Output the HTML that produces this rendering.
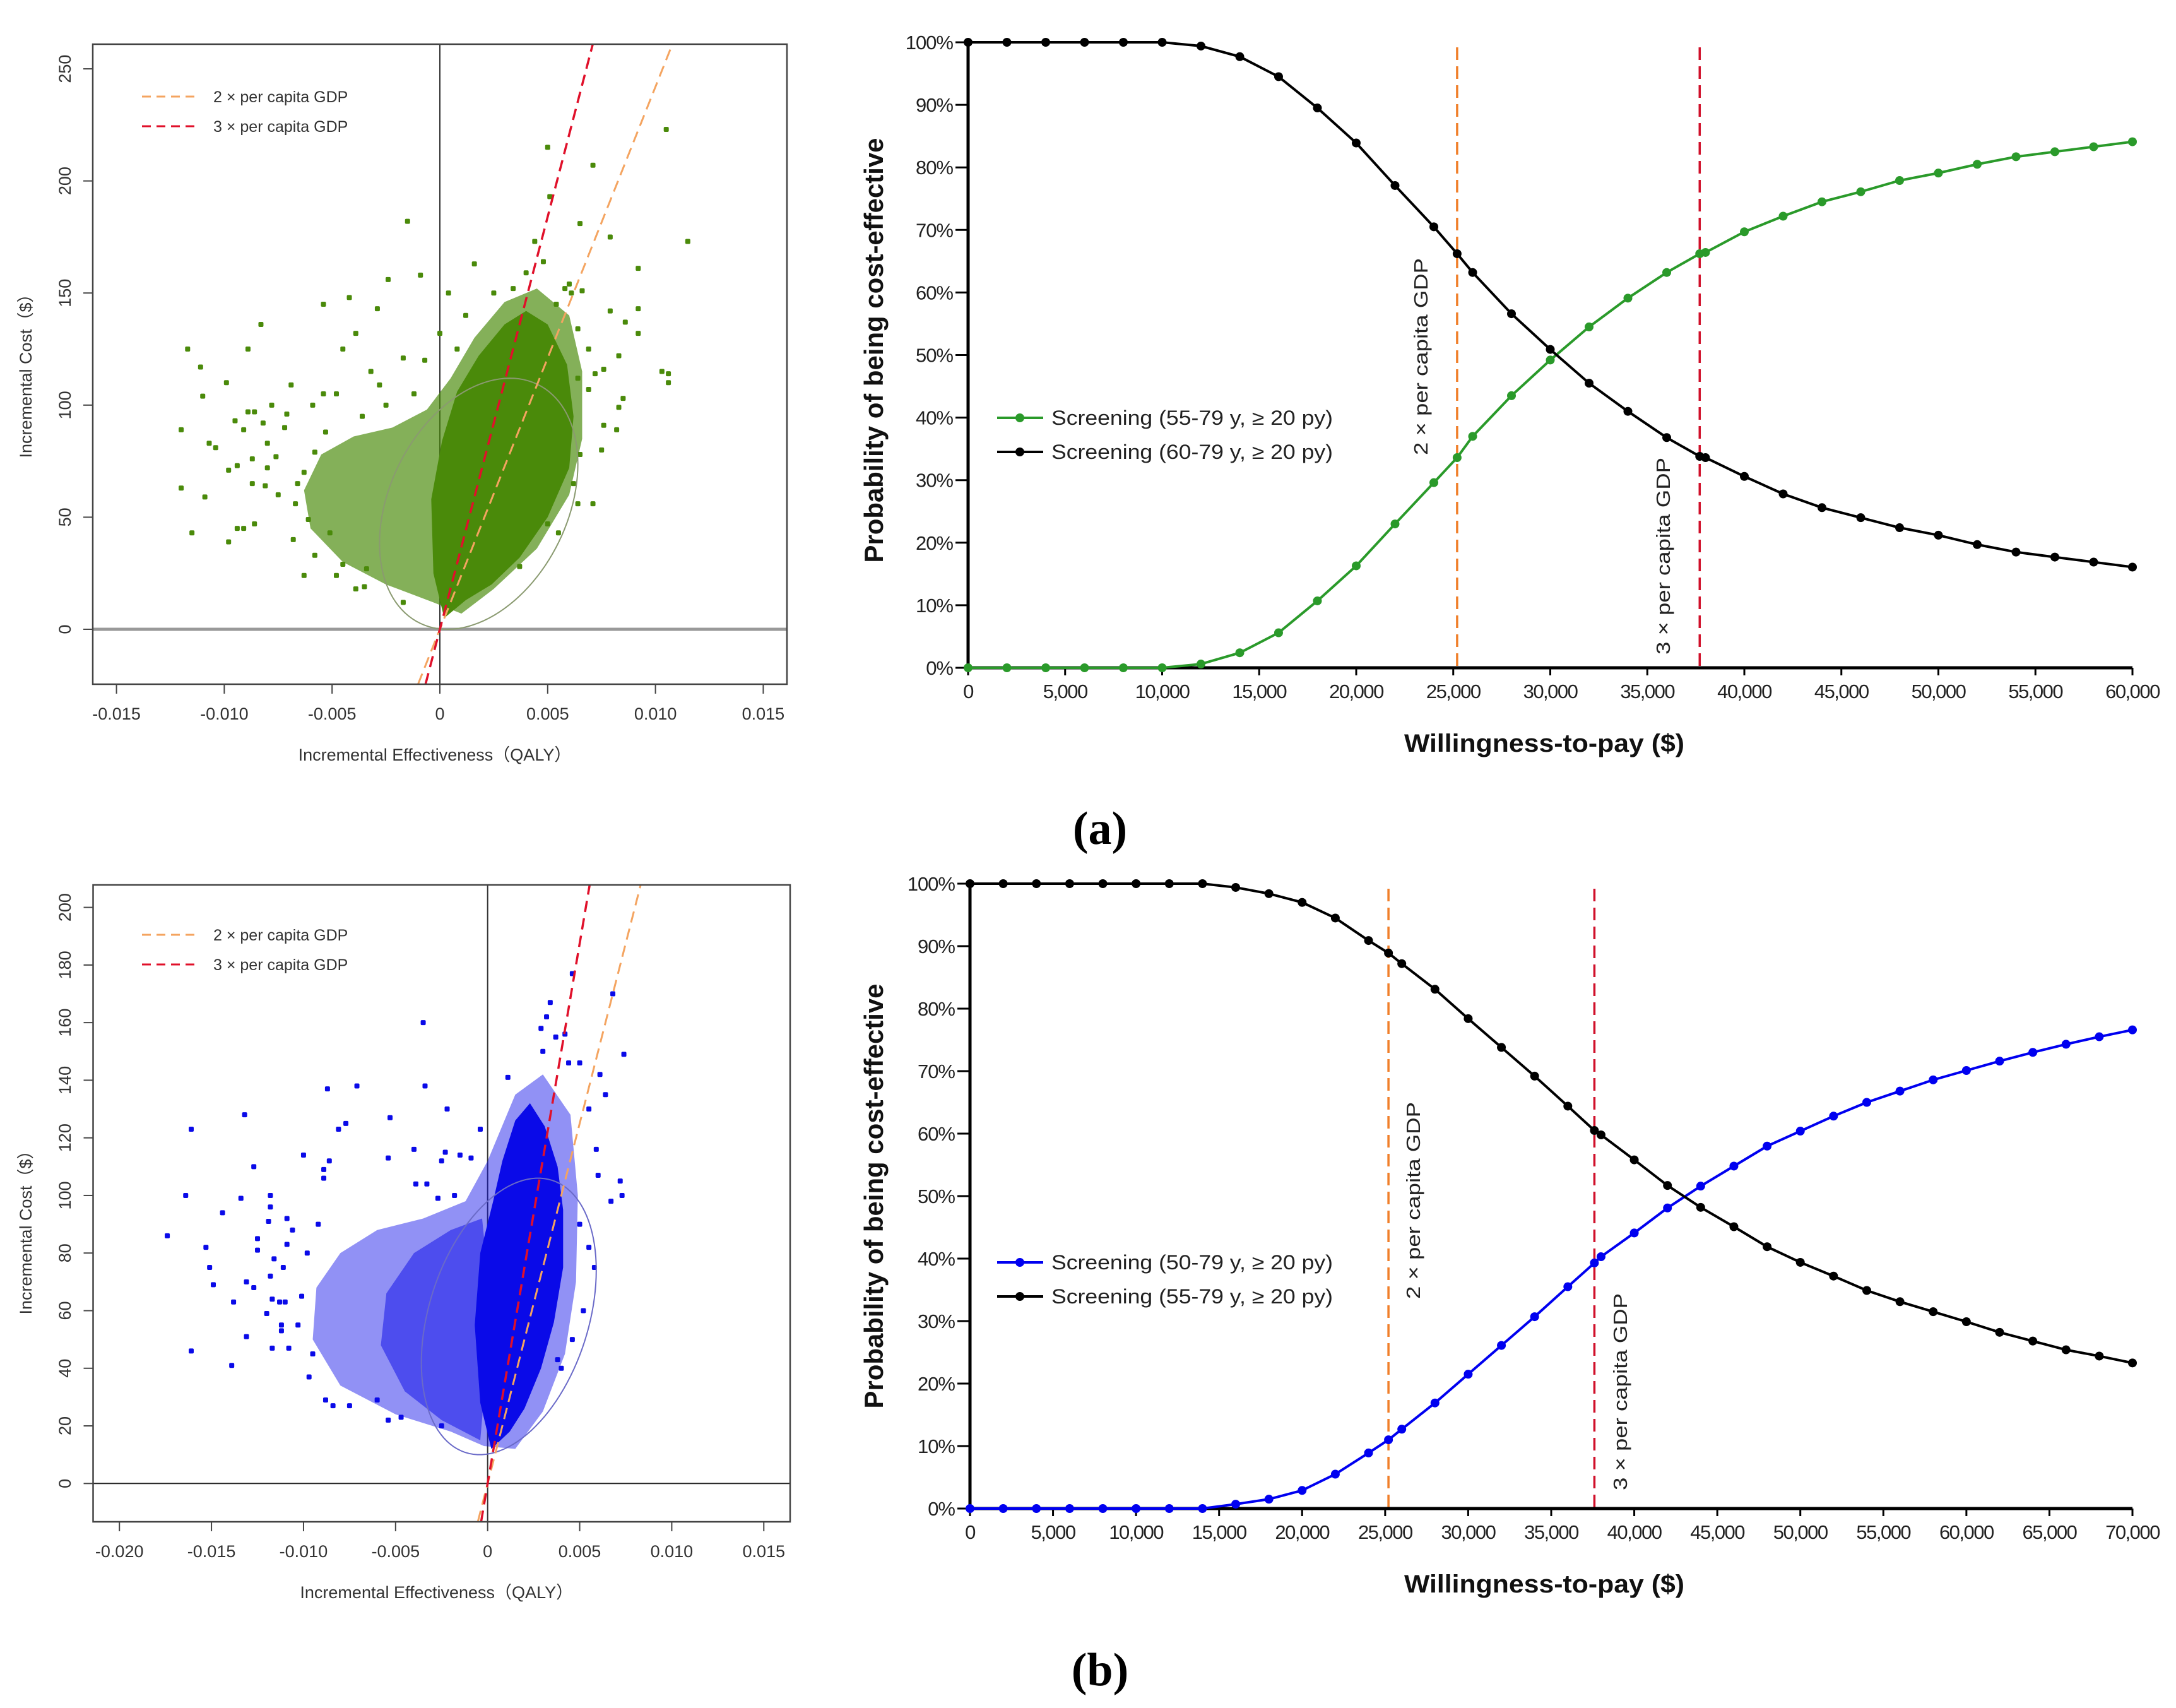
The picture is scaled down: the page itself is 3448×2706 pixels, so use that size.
<!DOCTYPE html>
<html><head><meta charset="utf-8">
<style>
html,body{margin:0;padding:0;background:#fff;}
svg{display:block;}
text{font-family:"Liberation Sans",Arial,sans-serif;}
</style></head>
<body>
<svg id="fig" width="3448" height="2706" viewBox="0 0 3448 2706" xmlns="http://www.w3.org/2000/svg">
<rect x="0" y="0" width="3448" height="2706" fill="#fff"/>
<g id="sA"></g>
<g id="sB"></g>
<g id="cA"></g>
<g id="cB"></g>
<text x="1743" y="1337" text-anchor="middle" font-size="74" font-weight="bold" style="font-family:'Liberation Serif',serif">(a)</text>
<text x="1743" y="2670" text-anchor="middle" font-size="74" font-weight="bold" style="font-family:'Liberation Serif',serif">(b)</text>
</svg>
<script>
// ---------- DATA ----------
const scatterAOutliers = [
[0.0105,223],[0.005,215],[0.0071,207],[0.0051,193],[-0.0015,182],[0.0065,181],[0.0079,175],[0.0115,173],[0.0044,173],
[-0.0009,158],[0.0016,163],[0.0092,161],[-0.0024,156],[0.0004,150],[-0.0054,145],[-0.0042,148],[-0.0029,143],[0.0092,143],
[0.0079,142],[-0.0083,136],[-0.0039,132],[0,132],[0.0092,132],[0.0086,137],[-0.0117,125],[-0.0089,125],[-0.0045,125],
[-0.0017,121],[-0.0007,120],[0.0083,122],[0.0103,115],[0.0106,114],[0.0106,110],[-0.0111,117],[-0.0099,110],[-0.0069,109],
[-0.0032,115],[-0.0028,109],[-0.011,104],[-0.0054,105],[-0.0048,105],[-0.0078,100],[-0.0059,100],[0.0083,99],[0.0085,103],
[-0.012,89],[-0.0095,93],[-0.0089,97],[-0.0086,97],[-0.0082,92],[-0.0071,96],[-0.0107,83],[-0.0104,81],[-0.0091,89],
[-0.008,83],[0.0076,91],[0.0082,89],[0.0075,80],[-0.0098,71],[-0.0094,73],[-0.0087,76],[-0.008,72],[-0.0076,77],
[-0.012,63],[-0.0109,59],[-0.0087,65],[-0.0081,64],[-0.0115,43],[-0.0098,39],[-0.0094,45],[-0.0091,45],[-0.0086,47],
[0.0071,56],[0.0055,43],[0.005,47],[0.0037,28],[-0.0063,24],[-0.0048,24],[-0.0039,18],[-0.0035,19],[-0.0017,12],
[-0.0066,65],[-0.0063,70],[-0.0058,79],[-0.0053,88],[-0.0067,56],[-0.0061,49],[-0.0051,43],[-0.0068,40],[-0.0058,33],
[-0.0045,29],[-0.0034,27],[0.0064,112],[0.0069,107],[0.0072,114],[0.0064,134],[0.0061,150],[0.0058,152],[0.004,159],
[0.0034,152],[0.0054,145],[0.0048,164],[0.006,154],[0.0066,151],[0.0069,125],[0.0076,116],[0.0064,56],[0.0062,65],[0.0065,78],
[-0.0072,90],[-0.0075,60],[-0.0036,95],[-0.0025,100],[-0.0012,105],[0.0008,125],[0.0012,140],[0.0025,150]
];
const scatterACore = [[0.0002,5],[0.0012,13],[0.0024,20],[0.0037,32],[0.0050,50],[0.0060,72],[0.0062,95],[0.0059,118],[0.0050,136],[0.0040,142],[0.0030,136],[0.0018,122],[0.0008,106],[0.0001,84],[-0.0004,58],[-0.0003,25]];
const scatterAMid = [[-0.0003,12],[-0.0025,20],[-0.0045,30],[-0.0060,45],[-0.0063,62],[-0.0055,78],[-0.0040,86],[-0.0022,90],[-0.0006,98],[0.0005,112],[0.0016,130],[0.003,146],[0.0045,152],[0.0060,140],[0.0066,115],[0.0066,85],[0.006,60],[0.0045,36],[0.0025,18],[0.001,7]];
const ellipseA = {cx:0.0018, cy:56, ax:0.0046, ay:56, phase:1.25};
const ratioA = [24200, 36800];
const scatterBOutliers = [
[-0.0035,160],[0.0034,167],[0.0032,162],[0.0029,158],[0.0037,155],[0.0042,156],[0.003,150],[0.0074,149],[0.0068,170],[0.0046,177],
[-0.0087,137],[-0.0071,138],[-0.0034,138],[-0.0132,128],[-0.0022,130],[-0.0077,125],[-0.0053,127],[-0.0081,123],[-0.0161,123],
[-0.0004,123],[0.0011,141],[0.0061,142],[0.0064,135],[0.0055,130],[0.005,146],[0.0044,146],[-0.01,114],[-0.004,116],[-0.0023,115],
[-0.0054,113],[-0.0015,114],[-0.0009,113],[-0.0127,110],[-0.0086,112],[-0.0089,109],[-0.0089,106],[-0.0025,112],[0.0059,116],
[0.006,107],[0.0072,105],[0.0073,100],[0.0067,98],[-0.0164,100],[-0.0134,99],[-0.0118,100],[-0.0118,96],[-0.0039,104],[-0.0033,104],
[-0.0027,99],[-0.0018,100],[-0.0144,94],[-0.0119,91],[-0.0109,92],[-0.0106,88],[-0.0174,86],[-0.0125,85],[-0.0153,82],[-0.0109,83],
[-0.0125,81],[-0.0151,75],[-0.0149,69],[-0.0131,70],[-0.0127,68],[-0.0118,72],[-0.0116,78],[-0.0111,75],[-0.0138,63],[-0.0117,64],
[-0.0113,63],[-0.011,63],[-0.012,59],[-0.0112,55],[-0.0112,53],[-0.0103,55],[-0.0131,51],[-0.0108,47],[-0.0117,47],[-0.0161,46],
[-0.0139,41],[-0.0097,37],[0.0038,43],[0.004,40],[-0.0088,29],[-0.0084,27],[-0.0075,27],[-0.006,29],[-0.0054,22],[-0.0047,23],
[-0.0025,20],[-0.0101,65],[-0.0098,80],[-0.0092,90],[-0.0095,45],[0.005,90],[0.0055,82],[0.0058,75],[0.0052,60],[0.0046,50]
];
const scatterBCore = [[0.0002,12],[0.0012,18],[0.002,26],[0.0029,40],[0.0036,56],[0.0041,75],[0.0041,95],[0.0038,110],[0.0031,124],[0.0023,132],[0.0015,126],[0.0008,112],[0.0003,98],[-0.0004,80],[-0.0007,55],[-0.0004,28]];
const scatterBMid = [[-0.0002,13],[-0.002,18],[-0.005,24],[-0.008,34],[-0.0095,50],[-0.0093,68],[-0.008,80],[-0.006,88],[-0.0035,92],[-0.0012,98],[0,112],[0.0015,135],[0.003,142],[0.0045,128],[0.0049,100],[0.0048,70],[0.0042,45],[0.003,25],[0.0015,12]];
const scatterBDense = [[-0.0004,15],[-0.0025,22],[-0.0045,32],[-0.0058,48],[-0.0055,66],[-0.004,80],[-0.002,88],[-0.0003,92],[0.0002,60]];
const ellipseB = {cx:0.00115, cy:58, ax:0.00475, ay:48, phase:1.23};
const ratioB = [25000, 37500];
const wtpA = [0,2000,4000,6000,8000,10000,12000,14000,16000,18000,20000,22000,24000,25200,26000,28000,30000,32000,34000,36000,37700,38000,40000,42000,44000,46000,48000,50000,52000,54000,56000,58000,60000];
const greenA = [0,0,0,0,0,0,0.6,2.4,5.6,10.7,16.3,23.0,29.6,33.6,37.0,43.5,49.2,54.5,59.1,63.2,66.2,66.4,69.7,72.2,74.5,76.1,77.9,79.1,80.5,81.7,82.5,83.3,84.1];
const blackA = [100,100,100,100,100,100,99.4,97.7,94.5,89.5,83.9,77.1,70.5,66.2,63.2,56.6,50.9,45.5,41.0,36.8,33.8,33.6,30.6,27.8,25.6,24.0,22.4,21.2,19.7,18.5,17.7,16.9,16.1];
const thresholdsA = [25200, 37700];
const wtpB = [0,2000,4000,6000,8000,10000,12000,14000,16000,18000,20000,22000,24000,25200,26000,28000,30000,32000,34000,36000,37600,38000,40000,42000,44000,46000,48000,50000,52000,54000,56000,58000,60000,62000,64000,66000,68000,70000];
const blueB = [0,0,0,0,0,0,0,0,0.7,1.5,2.9,5.5,8.9,11.0,12.7,16.9,21.5,26.1,30.7,35.5,39.3,40.3,44.1,48.1,51.6,54.8,58.0,60.4,62.8,65.0,66.8,68.6,70.1,71.6,73.0,74.3,75.5,76.6];
const blackB = [100,100,100,100,100,100,100,100,99.4,98.4,97.0,94.5,90.9,88.9,87.2,83.1,78.4,73.8,69.2,64.4,60.5,59.8,55.8,51.7,48.2,45.1,41.9,39.4,37.2,34.9,33.1,31.5,29.9,28.2,26.8,25.4,24.4,23.3];
const thresholdsB = [25200, 37600];
const xTicksA = [0,5000,10000,15000,20000,25000,30000,35000,40000,45000,50000,55000,60000];
const xTicksB = [0,5000,10000,15000,20000,25000,30000,35000,40000,45000,50000,55000,60000,65000,70000];
const yTicksPct = [0,10,20,30,40,50,60,70,80,90,100];
const sTicksAx = [-0.015,-0.010,-0.005,0,0.005,0.010,0.015];
const sTicksAxLabels = ["-0.015","-0.010","-0.005","0","0.005","0.010","0.015"];
const sTicksAy = [0,50,100,150,200,250];
const sTicksBx = [-0.020,-0.015,-0.010,-0.005,0,0.005,0.010,0.015];
const sTicksBxLabels = ["-0.020","-0.015","-0.010","-0.005","0","0.005","0.010","0.015"];
const sTicksBy = [0,20,40,60,80,100,120,140,160,180,200];

const NS = "http://www.w3.org/2000/svg";
function mk(parent, tag, attrs, txt){
  const e = document.createElementNS(NS, tag);
  for (const k in attrs) e.setAttribute(k, attrs[k]);
  if (txt !== undefined) e.textContent = txt;
  parent.appendChild(e);
  return e;
}
function fmt(n){ return n.toString().replace(/\B(?=(\d{3})+(?!\d))/g, ","); }

function scatter(g, P, cfg){
  const X = v => P.x0 + (v - P.xmin) / (P.xmax - P.xmin) * (P.x1 - P.x0);
  const Y = v => P.y1 - (v - P.ymin) / (P.ymax - P.ymin) * (P.y1 - P.y0);
  const clipId = cfg.id + "-clip";
  const defs = mk(g, "defs", {});
  const cp = mk(defs, "clipPath", {id: clipId});
  mk(cp, "rect", {x:P.x0, y:P.y0, width:P.x1-P.x0, height:P.y1-P.y0});
  const plot = mk(g, "g", {"clip-path": "url(#" + clipId + ")"});
  
  
  const hz = mk(plot, "line", {x1:P.x0, x2:P.x1, y1:Y(0), y2:Y(0), stroke:cfg.hzColor, "stroke-width":cfg.hzW});
  
  
  const vz = mk(plot, "line", {x1:X(0), x2:X(0), y1:P.y0, y2:P.y1, stroke:"#333", "stroke-width":2});
  
  
  cfg.mids.forEach(m => {
    const pm = mk(plot, "polygon", {points: m.pts.map(p => X(p[0]) + "," + Y(p[1])).join(" "), fill:cfg.color, "fill-opacity":m.op});
    
    
  });
  const core = mk(plot, "polygon", {points: cfg.core.map(p => X(p[0]) + "," + Y(p[1])).join(" "), fill:cfg.color});
  
  
  cfg.pts.forEach(p => {
    const c = mk(plot, "rect", {x:X(p[0]) - 4, y:Y(p[1]) - 4, width:8, height:8, rx:2, fill:cfg.color});
    
    
  });
  const E = cfg.ell; const ep = [];
  for (let i = 0; i <= 120; i++){
    const t = i / 120 * 2 * Math.PI;
    ep.push(X(E.cx + E.ax * Math.cos(t)) + "," + Y(E.cy + E.ay * Math.cos(t - E.phase)));
  }
  const el = mk(plot, "polyline", {points: ep.join(" "), fill:"none", stroke:cfg.ellColor, "stroke-width":2});
  
  
  const rc = ["#f4a460", "#e0102a"];
  cfg.ratios.forEach((r, i) => {
    const ln = mk(plot, "line", {x1:X(P.ymin / r), y1:Y(P.ymin), x2:X(P.ymax / r), y2:Y(P.ymax), stroke:rc[i], "stroke-width": i ? 3.5 : 3, "stroke-dasharray":"18,10"});
    
    
  });
  const bx = mk(g, "rect", {x:P.x0, y:P.y0, width:P.x1-P.x0, height:P.y1-P.y0, fill:"none", stroke:"#444", "stroke-width":2.5});
  
  
  cfg.xt.forEach((v, i) => {
    const t = mk(g, "line", {x1:X(v), x2:X(v), y1:P.y1, y2:P.y1 + 15, stroke:"#444", "stroke-width":2});
    
    
    const l = mk(g, "text", {x:X(v), y:P.y1 + 56, "text-anchor":"middle", "font-size":27, fill:"#333"}, cfg.xtl[i]);
    
    
  });
  cfg.yt.forEach(v => {
    const t = mk(g, "line", {x1:P.x0 - 15, x2:P.x0, y1:Y(v), y2:Y(v), stroke:"#444", "stroke-width":2});
    
    
    const l = mk(g, "text", {x:0, y:0, "text-anchor":"middle", "font-size":27, fill:"#333", transform:"translate(112," + Y(v) + ") rotate(-90)"}, String(v));
    
    
  });
  const xt = mk(g, "text", {x:(P.x0 + P.x1) / 2 - 8, y:P.y1 + 121, "text-anchor":"middle", "font-size":27, fill:"#333"}, "Incremental Effectiveness（QALY）");
  
  
  const yt = mk(g, "text", {x:0, y:0, "text-anchor":"middle", "font-size":27, fill:"#333", transform:"translate(50," + cfg.ytY + ") rotate(-90)"}, "Incremental Cost（$）");
  
  
  const lg = mk(g, "g", {});
  
  
  ["2 × per capita GDP", "3 × per capita GDP"].forEach((s, i) => {
    const yy = cfg.legY + i * 47;
    const ln = mk(lg, "line", {x1:225, x2:317, y1:yy, y2:yy, stroke:rc[i], "stroke-width":3, "stroke-dasharray":"14,9"});
    
    
    const tx = mk(lg, "text", {x:338, y:yy + 9, "font-size":25, fill:"#333"}, s);
    
    
  });
}

scatter(document.getElementById("sA"),
  {x0:147, x1:1247, y0:70, y1:1084, xmin:-0.0161, xmax:0.0161, ymin:-24.5, ymax:261},
  {id:"sa", color:"#4a8a0a", hzColor:"#999", hzW:5, ellColor:"#8a9a70",
   pts:scatterAOutliers, core:scatterACore, mids:[{pts:scatterAMid, op:0.68}],
   ell:ellipseA, ratios:ratioA, xt:sTicksAx, xtl:sTicksAxLabels, yt:sTicksAy, ytY:589, legY:153});
scatter(document.getElementById("sB"),
  {x0:147.5, x1:1252, y0:1402, y1:2411, xmin:-0.02143, xmax:0.01643, ymin:-13.3, ymax:207.8},
  {id:"sb", color:"#0a0ae8", hzColor:"#222", hzW:2, ellColor:"#6a6ac8",
   pts:scatterBOutliers, core:scatterBCore, mids:[{pts:scatterBMid, op:0.45}, {pts:scatterBDense, op:0.5}],
   ell:ellipseB, ratios:ratioB, xt:sTicksBx, xtl:sTicksBxLabels, yt:sTicksBy, ytY:1946, legY:1481});

function ceac(g, C, cfg){
  const X = v => C.x0 + v / C.xmax * (C.x1 - C.x0);
  const Y = v => C.yb - v / 100 * (C.yb - C.yt);
  const tc = ["#f07f2a", "#d0102a"];
  cfg.thr.forEach((v, i) => {
    const l = mk(g, "line", {x1:X(v), x2:X(v), y1:cfg.thrTop, y2:C.yb, stroke:tc[i], "stroke-width":3.5, "stroke-dasharray":"20,10"});
    
    
  });
  const ax = mk(g, "path", {d:"M" + C.x0 + "," + (C.yt - 2) + " V" + C.yb + " H" + C.x1, fill:"none", stroke:"#000", "stroke-width":5});
  
  
  yTicksPct.forEach(v => {
    const t = mk(g, "line", {x1:C.x0 - 20, x2:C.x0, y1:Y(v), y2:Y(v), stroke:"#000", "stroke-width":3});
    
    
    const l = mk(g, "text", {x:C.x0 - 24, y:Y(v) + 11, "text-anchor":"end", "font-size":31, fill:"#222", "letter-spacing":"-1"}, v + "%");
    
    
  });
  cfg.xt.forEach(v => {
    const t = mk(g, "line", {x1:X(v), x2:X(v), y1:C.yb, y2:C.yb + 12, stroke:"#000", "stroke-width":3});
    
    
    const l = mk(g, "text", {x:X(v), y:C.yb + 48, "text-anchor":"middle", "font-size":31, fill:"#222", "letter-spacing":"-1.5"}, fmt(v));
    
    
  });
  const xt = mk(g, "text", {x:2447, y:C.yb + 133, "text-anchor":"middle", "font-size":40, "font-weight":"bold", fill:"#111", textLength:444, lengthAdjust:"spacingAndGlyphs"}, "Willingness-to-pay ($)");
  
  
  const yt = mk(g, "text", {x:0, y:0, "text-anchor":"middle", "font-size":42, "font-weight":"bold", fill:"#111", textLength:673, lengthAdjust:"spacingAndGlyphs", transform:"translate(1399," + cfg.ytY + ") rotate(-90)"}, "Probability of being cost-effective");
  
  
  cfg.series.forEach(s => {
    const pl = mk(g, "polyline", {points: cfg.wtp.map((w, i) => X(w) + "," + Y(s.vals[i])).join(" "), fill:"none", stroke:s.color, "stroke-width":4});
    
    
    cfg.wtp.forEach((w, i) => {
      const c = mk(g, "circle", {cx:X(w), cy:Y(s.vals[i]), r:7, fill:s.color});
      
      
    });
  });
  cfg.vlab.forEach(v => {
    const t = mk(g, "text", {x:0, y:0, "text-anchor":"middle", "font-size":31, fill:"#222", textLength:312, lengthAdjust:"spacingAndGlyphs", transform:"translate(" + v.x + "," + v.y + ") rotate(-90)"}, v.t);
    
    
  });
  const lg = mk(g, "g", {});
  
  
  cfg.series.forEach((s, i) => {
    const yy = cfg.legY + i * 54;
    const ln = mk(lg, "line", {x1:1580, x2:1653, y1:yy, y2:yy, stroke:s.color, "stroke-width":4});
    
    
    const dt = mk(lg, "circle", {cx:1616, cy:yy, r:7, fill:s.color});
    
    
    const tx = mk(lg, "text", {x:1666, y:yy + 11, "font-size":32, fill:"#222", textLength:446, lengthAdjust:"spacingAndGlyphs"}, s.label);
    
    
  });
}

ceac(document.getElementById("cA"), {x0:1534, x1:3379, yb:1058, yt:67, xmax:60000},
  {wtp:wtpA, xt:xTicksA, thr:thresholdsA, thrTop:75, ytY:555, legY:662,
   series:[{name:"screening-55-79", color:"#2a9a2a", vals:greenA, label:"Screening (55-79 y, ≥ 20 py)"},
           {name:"screening-60-79", color:"#000", vals:blackA, label:"Screening (60-79 y, ≥ 20 py)"}],
   vlab:[{x:2262, y:565, t:"2 × per capita GDP"}, {x:2646, y:881, t:"3 × per capita GDP"}]});
ceac(document.getElementById("cB"), {x0:1537, x1:3379, yb:2390, yt:1400, xmax:70000},
  {wtp:wtpB, xt:xTicksB, thr:thresholdsB, thrTop:1408, ytY:1895, legY:2000,
   series:[{name:"screening-50-79", color:"#0000f0", vals:blueB, label:"Screening (50-79 y, ≥ 20 py)"},
           {name:"screening-55-79", color:"#000", vals:blackB, label:"Screening (55-79 y, ≥ 20 py)"}],
   vlab:[{x:2250, y:1902, t:"2 × per capita GDP"}, {x:2578, y:2205, t:"3 × per capita GDP"}]});
</script>
</body></html>
